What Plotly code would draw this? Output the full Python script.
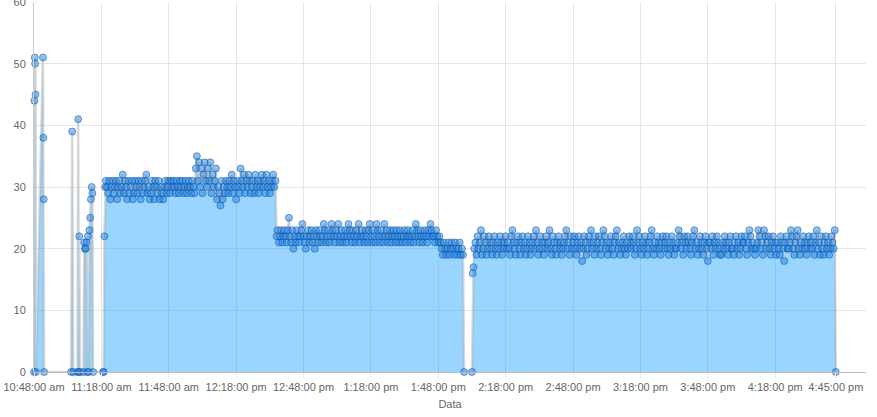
import pandas as pd
import plotly.graph_objects as go

DAY = "2024-01-01 "

# Early irregular readings (time, value)
early_times = ["10:48:00", "10:48:10", "10:48:20", "10:48:30", "10:48:40", "10:48:50",
               "10:52:00", "10:52:10", "10:52:20", "10:52:30",
               "11:04:30", "11:05:00", "11:05:30",
               "11:07:20", "11:07:40", "11:08:00", "11:08:10", "11:08:30",
               "11:10:00", "11:10:20", "11:10:40", "11:11:00", "11:11:20", "11:11:40",
               "11:12:00", "11:12:20", "11:12:40", "11:13:00", "11:13:20", "11:13:40",
               "11:14:00", "11:14:20", "11:18:45", "11:19:00", "11:19:20", "11:19:40"]
early_values = [0, 44, 51, 50, 45, 0,
                51, 38, 28, 0,
                0, 39, 0,
                0, 41, 0, 22, 0,
                0, 21, 20, 20, 21, 0,
                22, 0, 23, 25, 28, 30,
                29, 0, 0, 0, 22, 30]

# 30-second readings 11:20:00 - 12:35:30
seg_a_start = "11:20:00"
seg_a = [31, 30, 29, 31, 28, 30, 31, 29, 30, 31,
         28, 30, 31, 29, 30, 32, 29, 31, 30, 28,
         31, 29, 30, 31, 28, 29, 31, 30, 29, 31,
         30, 28, 31, 29, 30, 31, 32, 29, 30, 28,
         29, 31, 30, 28, 31, 30, 29, 31, 28, 30,
         29, 28, 30, 31, 29, 30, 31, 29, 31, 30,
         31, 30, 29, 31, 30, 29, 31, 30, 31, 29,
         30, 31, 29, 30, 31, 30, 29, 31, 30, 29,
         33, 35, 31, 34, 30, 33, 29, 32, 34, 31,
         30, 33, 31, 34, 29, 32, 30, 31, 33, 28,
         30, 29, 27, 31, 28, 30, 29, 31, 30, 29,
         31, 30, 32, 29, 31, 30, 28, 31, 30, 29,
         33, 31, 30, 32, 29, 31, 30, 32, 31, 29,
         30, 31, 29, 32, 30, 31, 29, 30, 31, 32,
         30, 31, 29, 32, 30, 31, 29, 30, 31, 32,
         30, 31]

# 30-second readings 12:36:00 - 13:48:30
seg_b_start = "12:36:00"
seg_b = [22, 23, 21, 22, 23, 21, 22, 23, 22, 21,
         23, 25, 22, 21, 23, 20, 22, 21, 23, 22,
         21, 22, 23, 24, 22, 21, 20, 22, 23, 21,
         22, 23, 21, 22, 20, 23, 22, 21, 23, 22,
         21, 22, 24, 23, 21, 22, 23, 21, 22, 24,
         23, 22, 21, 23, 22, 24, 21, 22, 23, 21,
         22, 23, 21, 22, 24, 23, 22, 21, 23, 22,
         21, 23, 22, 24, 21, 22, 23, 22, 21, 23,
         22, 21, 23, 24, 22, 21, 23, 22, 21, 24,
         23, 22, 21, 23, 22, 21, 24, 22, 23, 21,
         22, 23, 21, 22, 23, 22, 21, 23, 22, 21,
         23, 22, 21, 22, 23, 21, 22, 23, 22, 21,
         22, 23, 21, 22, 24, 23, 22, 21, 23, 22,
         21, 22, 23, 22, 21, 23, 22, 24, 23, 22,
         22, 21, 23, 22, 21, 22]

# 30-second readings 13:49:00 - 13:59:00
seg_c_start = "13:49:00"
seg_c = [21, 20, 19, 21, 20, 19, 20, 21, 19, 20, 21,
         20, 19, 21, 20, 19, 20, 21, 19, 20, 19]

gap_times = ["13:59:30", "14:03:00", "14:03:20", "14:03:40"]
gap_values = [0, 0, 16, 17]

# 30-second readings 14:04:00 - 16:44:30
seg_e_start = "14:04:00"
seg_e = [20, 21, 19, 22, 20, 21, 23, 19, 20, 22,
         21, 19, 20, 22, 21, 20, 19, 21, 22, 20,
         19, 21, 20, 22, 21, 19, 20, 21, 22, 20,
         21, 20, 19, 22, 23, 21, 20, 19, 21, 22,
         20, 19, 21, 22, 20, 21, 19, 20, 22, 21,
         19, 20, 21, 22, 20, 23, 21, 19, 20, 22,
         21, 20, 19, 21, 22, 20, 21, 23, 20, 19,
         22, 21, 20, 19, 21, 22, 20, 21, 19, 20,
         21, 22, 23, 20, 21, 19, 22, 20, 21, 22,
         20, 19, 21, 22, 20, 21, 18, 20, 22, 21,
         19, 20, 22, 21, 23, 20, 21, 19, 22, 20,
         21, 22, 20, 19, 21, 23, 22, 20, 21, 19,
         20, 21, 22, 20, 19, 21, 22, 23, 20, 21,
         19, 20, 21, 22, 20, 19, 21, 20, 22, 21,
         20, 22, 21, 19, 20, 23, 21, 22, 20, 19,
         21, 20, 22, 21, 19, 20, 21, 22, 23, 20,
         19, 21, 20, 22, 21, 20, 19, 21, 22, 20,
         21, 22, 20, 19, 21, 20, 22, 21, 19, 20,
         20, 21, 23, 22, 20, 21, 19, 22, 21, 20,
         22, 21, 20, 19, 21, 22, 23, 20, 21, 19,
         20, 22, 21, 20, 19, 21, 22, 20, 18, 21,
         21, 20, 22, 19, 21, 20, 22, 21, 20, 19,
         19, 21, 20, 22, 21, 20, 19, 21, 22, 20,
         20, 19, 21, 22, 20, 21, 19, 20, 22, 21,
         21, 22, 20, 19, 21, 23, 22, 20, 21, 20,
         19, 20, 21, 23, 22, 20, 21, 19, 23, 22,
         20, 21, 22, 20, 19, 21, 22, 20, 21, 19,
         21, 20, 19, 22, 21, 20, 18, 21, 22, 20,
         20, 21, 23, 22, 20, 19, 21, 22, 23, 20,
         19, 21, 20, 22, 21, 20, 19, 21, 22, 20,
         21, 20, 22, 19, 21, 23, 20, 21, 19, 22,
         20, 19, 21, 22, 20, 21, 19, 20, 22, 21,
         20, 23]

end_times = ["16:45:00"]
end_values = [0]

tick_times = ["10:48:00", "11:18:00", "11:48:00", "12:18:00", "12:48:00", "13:18:00",
              "13:48:00", "14:18:00", "14:48:00", "15:18:00", "15:48:00", "16:18:00", "16:45:00"]
tick_labels = ["10:48:00 am", "11:18:00 am", "11:48:00 am", "12:18:00 pm", "12:48:00 pm",
               "1:18:00 pm", "1:48:00 pm", "2:18:00 pm", "2:48:00 pm", "3:18:00 pm",
               "3:48:00 pm", "4:18:00 pm", "4:45:00 pm"]
y_ticks = [0, 10, 20, 30, 40, 50, 60]


def ts(t):
    return pd.Timestamp(DAY + t)


def seg(start, vals):
    return list(pd.date_range(ts(start), periods=len(vals), freq="30s"))


xs = [ts(t) for t in early_times]
ys = list(early_values)
xs += seg(seg_a_start, seg_a); ys += seg_a
xs += seg(seg_b_start, seg_b); ys += seg_b
xs += seg(seg_c_start, seg_c); ys += seg_c
xs += [ts(t) for t in gap_times]; ys += gap_values
xs += seg(seg_e_start, seg_e); ys += seg_e
xs += [ts(t) for t in end_times]; ys += end_values

fig = go.Figure()
fig.add_trace(go.Scatter(
    x=xs, y=ys, mode="lines+markers",
    fill="tozeroy", fillcolor="rgba(0,150,255,0.4)",
    line=dict(color="rgba(170,170,170,0.45)", width=2.5),
    marker=dict(size=7, color="rgba(30,136,229,0.5)",
                line=dict(color="rgba(13,71,161,0.5)", width=1)),
    hoverinfo="x+y", showlegend=False, cliponaxis=False,
))

font = dict(family="Liberation Sans, Arial, sans-serif", size=11, color="#666666")
fig.update_layout(
    width=877, height=417,
    margin=dict(l=34, r=11, t=2, b=45, autoexpand=False),
    paper_bgcolor="white", plot_bgcolor="white",
    font=font,
    xaxis=dict(
        range=[ts("10:48:00"), ts("16:58:25")],
        tickvals=[ts(t) for t in tick_times], ticktext=tick_labels,
        tickangle=0, automargin=False,
        showgrid=True, gridcolor="#e6e6e6", gridwidth=1,
        showline=True, linecolor="#bbbbbb", linewidth=1,
        ticks="outside", ticklen=5, tickcolor="#e6e6e6",
        tickfont=font, zeroline=False,
        title=dict(text="Data", font=font, standoff=8),
    ),
    yaxis=dict(
        range=[0, 60], tickvals=y_ticks, automargin=False,
        ticklabeloverflow="allow",
        showgrid=True, gridcolor="#e6e6e6", gridwidth=1,
        showline=True, linecolor="#cccccc", linewidth=1,
        ticks="outside", ticklen=5, tickcolor="rgba(0,0,0,0)",
        tickfont=font, zeroline=False,
    ),
)

fig.write_html("out.html", config={"displayModeBar": False},
               post_script="document.body.style.margin='0';")
